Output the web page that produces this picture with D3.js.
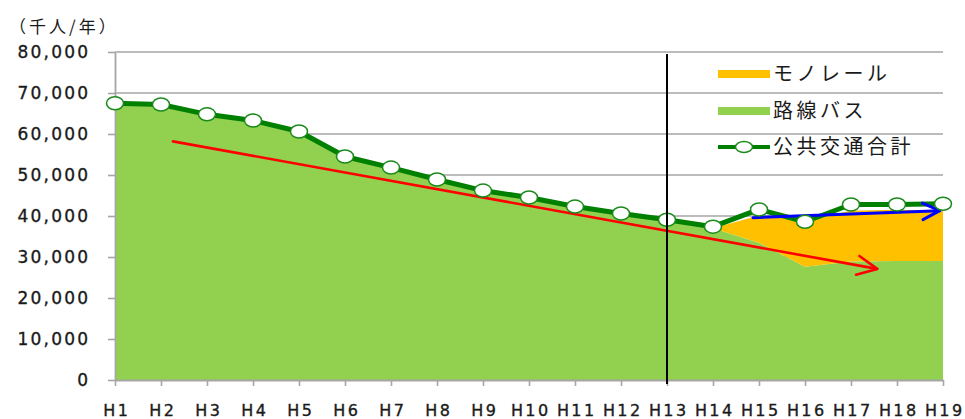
<!DOCTYPE html>
<html>
<head>
<meta charset="utf-8">
<script src="https://cdn.jsdelivr.net/npm/d3@7"></script>
<style>
  html, body { margin: 0; padding: 0; background: #fff; }
  svg { display: block; }
</style>
</head>
<body>
<svg id="chart" width="965" height="419"></svg>
<script>
// ---- data ----
const categories = ["H1","H2","H3","H4","H5","H6","H7","H8","H9","H10","H11","H12","H13","H14","H15","H16","H17","H18","H19"];
const busValues = [67500, 67200, 64800, 63300, 60600, 54500, 51800, 48900, 46200, 44500, 42300, 40600, 39100, 37000, 33500, 27600, 28900, 29000, 29000];
const monorailValues = [0, 0, 0, 0, 0, 0, 0, 0, 0, 0, 0, 0, 0, 0, 6600, 11400, 12400, 12500, 12200];
const totalValues = [67500, 67200, 64800, 63300, 60600, 54500, 51800, 48900, 46200, 44500, 42300, 40600, 39100, 37400, 41600, 38600, 42800, 42800, 43000];
const yTicks = [0, 10000, 20000, 30000, 40000, 50000, 60000, 70000, 80000];
const seriesNames = ["モノレール", "路線バス", "公共交通合計"];
const unitLabel = "（千人/年）";
const dividerCategory = "H13";
// trend arrows: [category index, value]
const redArrow = [[1.26, 58200], [16.57, 27100]];
const blueArrow = [[13.87, 39600], [17.93, 41300]];

(function () {
// ---- layout ----
const svg = d3.select("#chart");
const plotLeft = 115, plotRight = 943, plotTop = 52, plotBottom = 380;

const x = d3.scalePoint().domain(categories).range([plotLeft, plotRight]);
const xi = d3.scaleLinear().domain([0, categories.length - 1]).range([plotLeft, plotRight]);
const y = d3.scaleLinear().domain([0, 80000]).range([plotBottom, plotTop]);

const tickFont = '"DejaVu Sans", Verdana, sans-serif';
const cjkFont = '"Noto Sans CJK JP", "Noto Sans", sans-serif';

// gridlines
svg.append("g").selectAll("line").data(yTicks.filter(d => d > 0)).join("line")
  .attr("x1", plotLeft).attr("x2", plotRight)
  .attr("y1", d => y(d)).attr("y2", d => y(d))
  .attr("stroke", "#a6a6a6").attr("stroke-width", 1.6);

// stacked areas
const rows = categories.map((c, i) => ({ cat: c, bus: busValues[i], mono: monorailValues[i] }));
const stack = d3.stack().keys(["bus", "mono"])(rows);
const area = d3.area()
  .x((d, i) => x(categories[i]))
  .y0(d => y(d[0])).y1(d => y(d[1]));
const fills = { bus: "#92d050", mono: "#ffc000" };
svg.append("g").selectAll("path").data(stack).join("path")
  .attr("d", area)
  .attr("fill", d => fills[d.key]);

// y axis
const yAxis = d3.axisLeft(y).tickValues(yTicks).tickFormat(d3.format(",")).tickSize(7).tickSizeOuter(0).tickPadding(20);
const gy = svg.append("g").attr("transform", `translate(${plotLeft},0)`).call(yAxis);
gy.select(".domain").attr("stroke", "#a6a6a6").attr("stroke-width", 1.8);
gy.selectAll(".tick line").attr("stroke", "#a6a6a6").attr("stroke-width", 1.6);
gy.selectAll(".tick text")
  .attr("font-family", tickFont).attr("font-size", 17)
  .attr("letter-spacing", "2.2px").attr("dx", "2.2px")
  .attr("fill", "#1a1a1a").attr("stroke", "#1a1a1a").attr("stroke-width", 0.35);

// x axis
const xAxis = d3.axisBottom(x).tickSize(6).tickSizeOuter(0).tickPadding(19);
const gx = svg.append("g").attr("transform", `translate(0,${plotBottom})`).call(xAxis);
gx.select(".domain").attr("stroke", "#a6a6a6").attr("stroke-width", 1.8);
gx.selectAll(".tick line").attr("stroke", "#a6a6a6").attr("stroke-width", 1.6);
gx.selectAll(".tick text")
  .attr("font-family", tickFont).attr("font-size", 16)
  .attr("letter-spacing", "2.4px").attr("dx", "1.2px")
  .attr("fill", "#1a1a1a").attr("stroke", "#1a1a1a").attr("stroke-width", 0.35);

function drawArrow(pts, color, width, head) {
  const x0 = xi(pts[0][0]), y0 = y(pts[0][1]), x1 = xi(pts[1][0]), y1 = y(pts[1][1]);
  const g = svg.append("g").attr("stroke", color).attr("stroke-width", width)
    .attr("fill", "none").attr("stroke-linecap", "round").attr("stroke-linejoin", "round");
  g.append("line").attr("x1", x0).attr("y1", y0).attr("x2", x1).attr("y2", y1);
  const ang = Math.atan2(y1 - y0, x1 - x0);
  const a = 0.45;
  const p1 = [x1 - head * Math.cos(ang - a), y1 - head * Math.sin(ang - a)];
  const p2 = [x1 - head * Math.cos(ang + a), y1 - head * Math.sin(ang + a)];
  g.append("path").attr("d", `M${p1[0]},${p1[1]}L${x1},${y1}L${p2[0]},${p2[1]}`);
}
// red trend arrow
drawArrow(redArrow, "#ff0000", 2.6, 22);

// total line
const line = d3.line().x((d, i) => x(categories[i])).y(d => y(d));
svg.append("path").datum(totalValues)
  .attr("d", line).attr("fill", "none")
  .attr("stroke", "#008000").attr("stroke-width", 5).attr("stroke-linejoin", "round");

// blue trend arrow
drawArrow(blueArrow, "#0000ff", 3, 19);

// markers
svg.append("g").selectAll("ellipse").data(totalValues).join("ellipse")
  .attr("cx", (d, i) => x(categories[i])).attr("cy", d => y(d))
  .attr("rx", 8.5).attr("ry", 6.5)
  .attr("fill", "#fff").attr("stroke", "#1a8a1a").attr("stroke-width", 1.5);

// divider line at H13
svg.append("line")
  .attr("x1", x(dividerCategory)).attr("x2", x(dividerCategory))
  .attr("y1", plotTop + 2).attr("y2", plotBottom + 4)
  .attr("stroke", "#000").attr("stroke-width", 2);

// unit label
svg.append("text").attr("x", 9).attr("y", 33)
  .attr("font-family", cjkFont).attr("font-size", 17).attr("letter-spacing", "3px")
  .attr("fill", "#1a1a1a").text(unitLabel);

// legend
const lg = svg.append("g").attr("font-family", cjkFont).attr("font-size", 20).attr("fill", "#1a1a1a");
const legendY = [74, 111, 147];
lg.append("rect").attr("x", 718).attr("y", legendY[0] - 4).attr("width", 52).attr("height", 8).attr("fill", fills.mono);
lg.append("rect").attr("x", 718).attr("y", legendY[1] - 4).attr("width", 52).attr("height", 8).attr("fill", fills.bus);
lg.append("line").attr("x1", 718).attr("x2", 770).attr("y1", legendY[2]).attr("y2", legendY[2])
  .attr("stroke", "#008000").attr("stroke-width", 4);
lg.append("ellipse").attr("cx", 744).attr("cy", legendY[2]).attr("rx", 8.5).attr("ry", 5.5)
  .attr("fill", "#fff").attr("stroke", "#1a8a1a").attr("stroke-width", 1.5);
lg.selectAll("text").data(seriesNames).join("text")
  .attr("x", 773).attr("y", (d, i) => legendY[i])
  .attr("dy", "0.36em").attr("letter-spacing", "3.5px")
  .text(d => d);
})();
</script>
</body>
</html>
